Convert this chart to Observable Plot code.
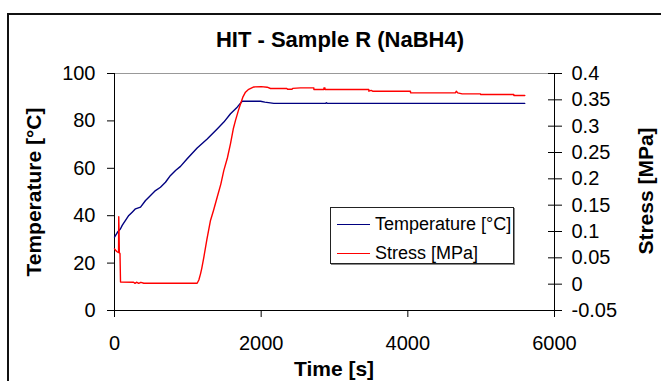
<!DOCTYPE html>
<html>
<head>
<meta charset="utf-8">
<script src="https://cdn.jsdelivr.net/npm/d3@7"></script>
<script src="https://cdn.jsdelivr.net/npm/@observablehq/plot@0.6"></script>
<style>
  html, body { margin: 0; padding: 0; background: #fff; overflow: hidden; }
  #wrap { position: relative; width: 661px; height: 381px; overflow: hidden; font-family: Arial, "Liberation Sans", sans-serif; color: #000; }
  #frame { position: absolute; left: 7px; top: 13px; width: 700px; height: 420px; border-left: 2px solid #111; border-top: 2px solid #111; box-sizing: border-box; }
  #title { position: absolute; left: 340px; top: 40px; transform: translate(-50%, -50%); font-weight: bold; font-size: 22px; line-height: 1; white-space: nowrap; }
  #chart { position: absolute; left: 0; top: 55px; }
  .atitle { position: absolute; font-weight: bold; font-size: 21px; line-height: 1; white-space: nowrap; }
  #ylab { left: 33px; top: 192px; transform: translate(-50%, -50%) rotate(-90deg); }
  #y2lab { left: 645px; top: 191px; transform: translate(-50%, -50%) rotate(-90deg); }
  #xlab { left: 334px; top: 368px; transform: translate(-50%, -50%); }
  #legend { position: absolute; left: 330px; top: 207px; width: 184px; height: 57px; border: 1px solid #222; box-shadow: 1px 1px 0 #888; background: #fff; box-sizing: border-box; font-size: 18px; }
  .row { position: absolute; left: 6px; height: 20px; display: flex; align-items: center; white-space: nowrap; }
  .sw { width: 33px; height: 0; border-top: 1.5px solid; margin-right: 5px; }
</style>
</head>
<body>
<div id="wrap">
  <div id="frame"></div>
  <div id="title">HIT - Sample R (NaBH4)</div>
  <div id="chart"></div>
  <div class="atitle" id="ylab">Temperature [°C]</div>
  <div class="atitle" id="y2lab">Stress [MPa]</div>
  <div class="atitle" id="xlab">Time [s]</div>
  <div id="legend"></div>
</div>
<script>
// ---- data ----
const seriesNames = ["Temperature [°C]", "Stress [MPa]"];
const seriesColors = ["#000080", "#ff0000"];

const tempTime  = [0, 40, 82, 105, 150, 195, 241, 286, 355, 423, 491, 559, 627, 695, 764, 832, 900, 991, 1127, 1264, 1400, 1491, 1582, 1673, 1741, 1991, 2050, 2173, 2880, 2890, 2900, 5595];
const tempValue = [31, 33, 34.5, 35.9, 38, 40.1, 41.5, 42.9, 43.6, 46.4, 48.5, 50.6, 52, 54.1, 57, 59.1, 60.8, 64, 68.6, 72.4, 76.6, 79.5, 83, 85.8, 88.3, 88.3, 87.9, 87.4, 87.4, 87.7, 87.4, 87.4];

const stressTime  = [0, 30, 55, 58, 62, 66, 75, 82, 260, 280, 300, 330, 360, 400, 1127, 1150, 1173, 1190, 1218, 1260, 1309, 1350, 1400, 1450, 1491, 1540, 1582, 1620, 1650, 1690, 1718, 1750, 1786, 1830, 1900, 2000, 2082, 2127, 2350, 2360, 2420, 2430, 2536, 2718, 2719, 2855, 2856, 2870, 2871, 3468, 3469, 3500, 3520, 3650, 4036, 4037, 4650, 4660, 4680, 4741, 4991, 4992, 5445, 5446, 5595];
const stressValue = [0.067, 0.062, 0.060, 0.128, 0.100, 0.060, 0.058, 0.004, 0.0037, 0.0015, 0.0037, 0.0015, 0.0035, 0.0018, 0.0018, 0.008, 0.0196, 0.030, 0.051, 0.085, 0.121, 0.140, 0.165, 0.190, 0.216, 0.240, 0.267, 0.295, 0.311, 0.330, 0.342, 0.355, 0.3645, 0.370, 0.3745, 0.375, 0.374, 0.3715, 0.3715, 0.3700, 0.3700, 0.3718, 0.3728, 0.3728, 0.3696, 0.3696, 0.3728, 0.3728, 0.3696, 0.3696, 0.3664, 0.3680, 0.3664, 0.3664, 0.3664, 0.3633, 0.3633, 0.3664, 0.3633, 0.3614, 0.3614, 0.3601, 0.3601, 0.3582, 0.3582];

const xTicks = [0, 2000, 4000, 6000];
const tempTicks = [0, 20, 40, 60, 80, 100];
const stressTicks = [-0.05, 0, 0.05, 0.1, 0.15, 0.2, 0.25, 0.3, 0.35, 0.4];

// ---- secondary axis mapping (stress -> temperature scale) ----
const sMin = stressTicks[0], sMax = stressTicks[stressTicks.length - 1];
const tMin = tempTicks[0], tMax = tempTicks[tempTicks.length - 1];
const toT = s => tMin + (s - sMin) / (sMax - sMin) * (tMax - tMin);
const fromT = t => sMin + (t - tMin) / (tMax - tMin) * (sMax - sMin);

const tempData = tempTime.map((t, i) => ({t, v: tempValue[i]}));
const stressData = stressTime.map((t, i) => ({t, v: toT(stressValue[i])}));

const chart = Plot.plot({
  width: 661,
  height: 326,
  marginTop: 18,
  marginBottom: 71,
  marginLeft: 114,
  marginRight: 107,
  style: {fontFamily: "Arial, 'Liberation Sans', sans-serif", fontSize: "20px", color: "#000", background: "transparent", overflow: "visible"},
  x: {domain: [xTicks[0], xTicks[xTicks.length - 1]]},
  y: {domain: [tMin, tMax]},
  marks: [
    Plot.ruleY([tMax], {stroke: "#999"}),
    Plot.ruleX([xTicks[0]], {stroke: "#000"}),
    Plot.ruleX([xTicks[xTicks.length - 1]], {stroke: "#000"}),
    Plot.ruleY([tMin], {stroke: "#000"}),
    Plot.axisX({ticks: xTicks, tickSize: 7, tickPadding: 18, label: null, tickFormat: d => String(d)}),
    Plot.axisY({ticks: tempTicks, tickSize: 7, tickPadding: 12, label: null, tickFormat: d => String(d)}),
    Plot.axisY({anchor: "right", ticks: stressTicks.map(toT), tickSize: 14, dx: -7, tickPadding: 10, label: null,
                tickFormat: t => String(Math.round(fromT(t) * 100) / 100)}),
    Plot.line(tempData, {x: "t", y: "v", stroke: seriesColors[0], strokeWidth: 1.4}),
    Plot.line(stressData, {x: "t", y: "v", stroke: seriesColors[1], strokeWidth: 1.4})
  ]
});
document.getElementById("chart").appendChild(chart);

// ---- legend ----
const legend = document.getElementById("legend");
seriesNames.forEach((name, i) => {
  const row = document.createElement("div");
  row.className = "row";
  row.style.top = (6 + i * 29) + "px";
  const sw = document.createElement("span");
  sw.className = "sw";
  sw.style.borderColor = seriesColors[i];
  const tx = document.createElement("span");
  tx.textContent = name;
  row.appendChild(sw);
  row.appendChild(tx);
  legend.appendChild(row);
});
</script>
</body>
</html>
